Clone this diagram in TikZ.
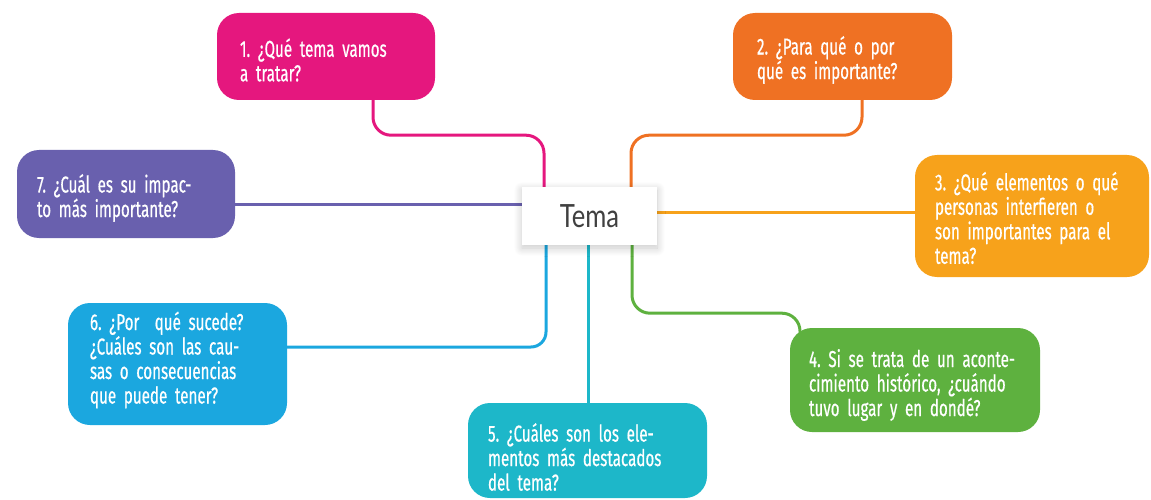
\documentclass[tikz,border=0pt]{standalone}
\usepackage{fontspec}
\newfontfamily\bxfont[FakeStretch=0.66,FakeBold=0.5]{Fira Sans}
\newfontfamily\temafont[FakeStretch=0.8]{Lato}
\usetikzlibrary{shadows.blur,backgrounds}
\definecolor{cA}{HTML}{E5177E}
\definecolor{cB}{HTML}{EF7123}
\definecolor{cC}{HTML}{F7A21B}
\definecolor{cD}{HTML}{5EB13F}
\definecolor{cE}{HTML}{1DB7C9}
\definecolor{cF}{HTML}{1BA7DF}
\definecolor{cG}{HTML}{6960AE}
\newcommand\jstline[1]{\makebox[\hsize][s]{#1}}
\frenchspacing
\begin{document}
\begin{tikzpicture}[x=1pt,y=-1pt,
  box/.style={fill=#1, draw=none, rounded corners=22pt, inner sep=0pt},
  txt/.style={text=white, font=\bxfont\fontsize{23}{24.5}\selectfont\frenchspacing, align=left, inner sep=0pt},
  conn/.style={draw=#1, line width=3pt, rounded corners=18pt},
  temabox/.style={fill=white, draw=none, minimum width=135pt, minimum height=58pt, inner sep=0pt,
    blur shadow={shadow xshift=0pt, shadow yshift=-3pt, shadow blur radius=8pt, shadow blur steps=12, shadow opacity=22},
    font=\temafont\fontsize{32}{36}\selectfont, text=black!75}]
\useasboundingbox (0,0) rectangle (1151,500);

% boxes
\node[box=cA, minimum width=218pt, minimum height=87pt] (b1) at (326,56.5) {};
\node[box=cB, minimum width=219pt, minimum height=87pt] (b2) at (842.5,56.5) {};
\node[box=cC, minimum width=234pt, minimum height=122pt] (b3) at (1032,216) {};
\node[box=cD, minimum width=250pt, minimum height=104pt] (b4) at (915,380) {};
\node[box=cE, minimum width=239pt, minimum height=95pt] (b5) at (587.5,450.5) {};
\node[box=cF, minimum width=219pt, minimum height=122pt] (b6) at (177.5,364) {};
\node[box=cG, minimum width=218pt, minimum height=88pt] (b7) at (126,194) {};

% texts
\node[txt, text width=172pt] (t1) at (326,60) {\jstline{1. ¿Qué tema vamos}\\a tratar?};
\node[txt, text width=171pt] (t2) at (842.5,60) {\jstline{2. ¿Para qué o por}\\qué es importante?};
\node[txt, text width=196pt] (t3) at (1033,218) {\jstline{3. ¿Qué elementos o qué}\\\jstline{personas interfieren o}\\\jstline{son importantes para el}\\tema?};
\node[txt, text width=221pt] (t4) at (919.5,385) {\jstline{4. Si se trata de un aconte-}\\\jstline{cimiento histórico, ¿cuándo}\\tuvo lugar y en dondé?};
\node[txt, text width=194pt] (t5) at (585,457) {5. ¿Cuáles son los ele-\\mentos más destacados\\del tema?};
\node[txt, text width=188pt] (t6) at (184,360) {\jstline{6. ¿Por \ qué sucede?}\\\jstline{¿Cuáles son las cau-}\\\jstline{sas o consecuencias}\\que puede tener?};
\node[txt, text width=176pt] (t7) at (125,198) {7. ¿Cuál es su impac-\\to más importante?};

% central node
\node[temabox] (tema) at (589.5,216) {Tema};

% connectors
\begin{scope}[on background layer]
\draw[conn=cA] ([xshift=47pt]b1.south) -- ++(0,35) -| ([xshift=-45.5pt]tema.north);
\draw[conn=cB] ([xshift=19.5pt]b2.south) -- ++(0,35) -| ([xshift=41.5pt]tema.north);
\draw[conn=cG, rounded corners=0pt] ([yshift=-10pt]b7.east) -- ([yshift=-10pt]b7.east -| tema.west);
\draw[conn=cC, rounded corners=0pt] ([yshift=4pt]tema.east) -- ([yshift=4pt]tema.east -| b3.west);
\draw[conn=cF, rounded corners=15pt] ([yshift=17pt]b6.east) -| ([xshift=-43.5pt]tema.south);
\draw[conn=cE, rounded corners=0pt] ([xshift=-1.5pt]tema.south) -- ([xshift=-1.5pt]tema.south |- b5.north);
\draw[conn=cD] ([xshift=42.5pt]tema.south) -- ++(0,68) -| ([xshift=-115pt,yshift=-8pt]b4.north);
\end{scope}
\end{tikzpicture}
\end{document}
